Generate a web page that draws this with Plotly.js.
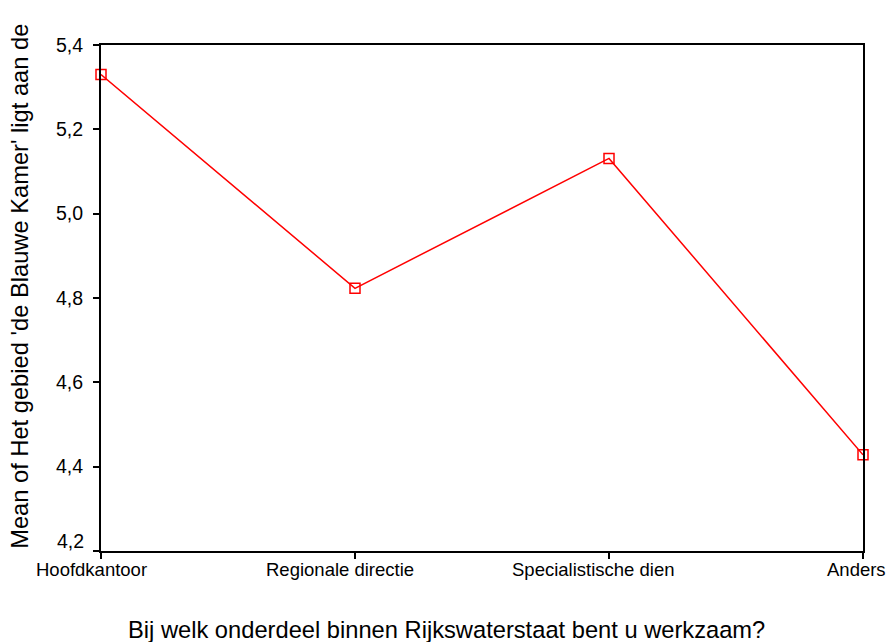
<!DOCTYPE html>
<html>
<head>
<meta charset="utf-8">
<script src="https://cdn.plot.ly/plotly-3.0.1.min.js"></script>
<style>html,body{margin:0;padding:0;background:#fff;}#chart{width:889px;height:642px;}</style>
</head>
<body>
<div id="chart"></div>
<script>
const categories = ["Hoofdkantoor", "Regionale directie", "Specialistische dien", "Anders"];
const means = [5.33, 4.823, 5.131, 4.428];
const yTicks = [4.2, 4.4, 4.6, 4.8, 5.0, 5.2, 5.4];
const xTitle = "Bij welk onderdeel binnen Rijkswaterstaat bent u werkzaam?";
const yTitle = "Mean of Het gebied 'de Blauwe Kamer' ligt aan de";

const font = "Liberation Sans, Arial, sans-serif";
const labelShifts = [-10, -15, -16, -7];
const fmt = v => v.toFixed(1).replace(".", ",");

const trace = {
  x: categories,
  y: means,
  type: "scatter",
  mode: "lines+markers",
  line: {color: "#ff0000", width: 1.5},
  marker: {symbol: "square-open", size: 10, color: "#ff0000", line: {width: 1.5, color: "#ff0000"}},
  cliponaxis: false,
  hoverinfo: "none"
};

const tickAnns = categories.map((c, i) => ({
  text: c, x: c, xref: "x", y: 0, yref: "paper",
  xanchor: "center", yanchor: "top", yshift: -6, xshift: labelShifts[i],
  showarrow: false, font: {family: font, size: 18.5, color: "#000"}
}));

// lowest y label is lifted above the axis corner, as in the reference
const lowLabel = {
  text: fmt(yTicks[0]), x: 0, xref: "paper", y: yTicks[0], yref: "y",
  xanchor: "right", yanchor: "middle", xshift: -15, yshift: 10,
  showarrow: false, font: {family: font, size: 19.5, color: "#000"}
};

const layout = {
  width: 889, height: 642,
  margin: {l: 101, r: 26, t: 45, b: 91},
  paper_bgcolor: "#fff", plot_bgcolor: "#fff",
  showlegend: false,
  font: {family: font, size: 14, color: "#000"},
  xaxis: {
    type: "category",
    range: [0, 3],
    showgrid: false, zeroline: false,
    showline: true, linecolor: "#000", linewidth: 2, mirror: true,
    ticks: "outside", ticklen: 6, tickwidth: 2, tickcolor: "#000",
    showticklabels: false
  },
  yaxis: {
    range: [4.2, 5.4],
    tickmode: "array",
    tickvals: yTicks,
    ticktext: yTicks.map((v, i) => i === 0 ? "" : fmt(v)),
    showgrid: false, zeroline: false,
    showline: true, linecolor: "#000", linewidth: 2, mirror: true,
    ticks: "outside", ticklen: 6, tickwidth: 2, tickcolor: "#000",
    ticklabelstandoff: 6,
    tickfont: {family: font, size: 19.5, color: "#000"}
  },
  annotations: tickAnns.concat([
    lowLabel,
    {text: xTitle, xref: "paper", yref: "paper", x: 0.4534, y: -0.156, xanchor: "center", yanchor: "middle",
     showarrow: false, font: {family: font, size: 23.7, color: "#000"}},
    {text: yTitle, xref: "paper", yref: "paper", x: -0.1063, y: 0.524, xanchor: "center", yanchor: "middle",
     textangle: -90, showarrow: false, font: {family: font, size: 23.7, color: "#000"}}
  ])
};
Plotly.newPlot("chart", [trace], layout, {staticPlot: true, displayModeBar: false});
</script>
</body>
</html>
